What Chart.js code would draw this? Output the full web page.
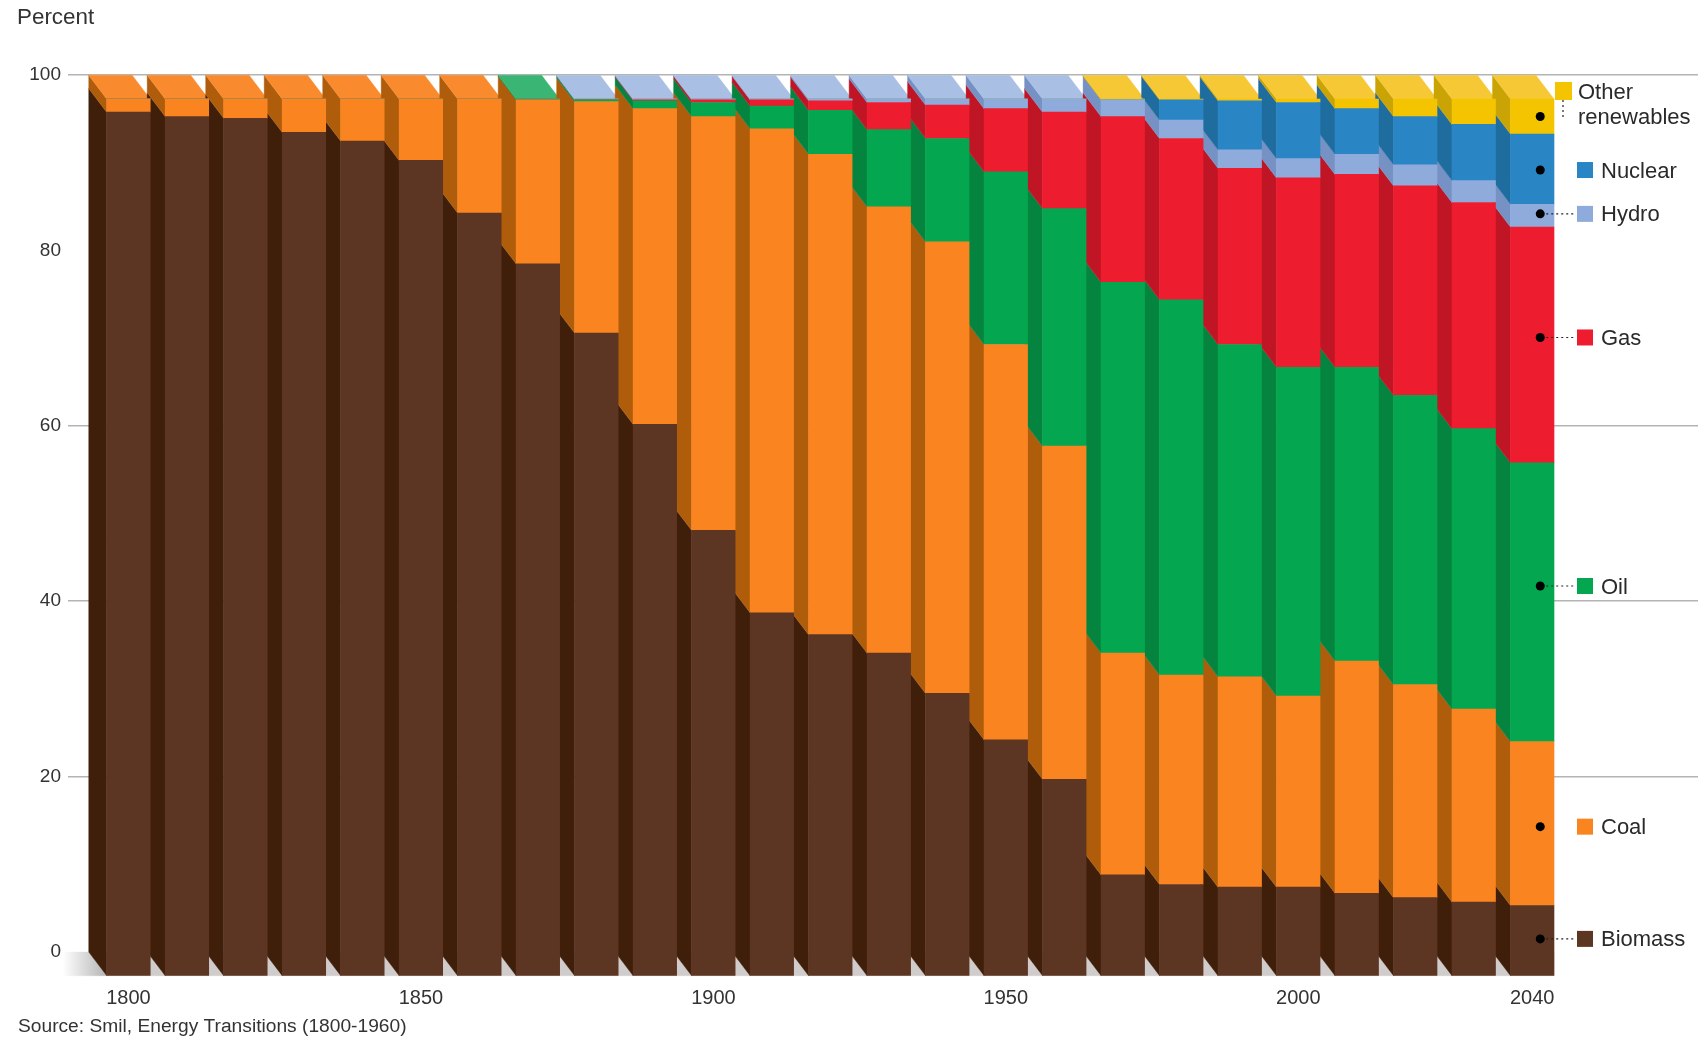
<!DOCTYPE html>
<html>
<head>
<meta charset="utf-8">
<style>html,body{margin:0;padding:0;background:#fff}#wrap{width:1698px;height:1040px}canvas{display:block}</style>
<script src="https://cdn.jsdelivr.net/npm/chart.js@4"></script>
</head>
<body>
<div id="wrap"><canvas id="c" width="1698" height="1040"></canvas></div>
<script>
const years = [1800,1810,1820,1830,1840,1850,1860,1870,1880,1890,1900,1910,1920,1930,1940,1950,1960,1970,1980,1990,2000,2010,2020,2030,2040];
const biomass = [98.5,98.0,97.8,96.2,95.2,93.0,87.0,81.2,73.3,62.9,50.8,41.4,38.9,36.8,32.2,26.9,22.4,11.5,10.4,10.1,10.1,9.4,8.9,8.4,8.0];
const coal    = [1.5,2.0,2.2,3.8,4.8,7.0,13.0,18.7,26.4,36.0,47.2,55.2,54.8,50.9,51.5,45.1,38.0,25.3,23.9,24.0,21.8,26.5,24.3,22.0,18.7];
const oil     = [0,0,0,0,0,0,0,0.1,0.2,0.9,1.6,2.6,5.0,8.8,11.8,19.7,27.1,42.3,42.8,37.9,37.5,33.5,33.0,32.0,31.8];
const gas     = [0,0,0,0,0,0,0,0,0,0.1,0.3,0.7,1.1,3.1,3.8,7.2,11.0,18.9,18.4,20.1,21.6,22.0,23.9,25.8,26.9];
const hydro   = [0,0,0,0,0,0,0,0,0.1,0.1,0.1,0.1,0.2,0.4,0.7,1.1,1.5,1.9,2.1,2.1,2.2,2.3,2.4,2.5,2.6];
const nuclear = [0,0,0,0,0,0,0,0,0,0,0,0,0,0,0,0,0,0,2.3,5.6,6.4,5.2,5.5,6.4,8.0];
const other   = [0,0,0,0,0,0,0,0,0,0,0,0,0,0,0,0,0,0.1,0.1,0.2,0.4,1.1,2.0,2.9,4.0];
const seriesNames = ["Biomass","Coal","Oil","Gas","Hydro","Nuclear","Other renewables"];
const legendValues = [4.2,17.0,44.45,72.8,86.9,91.9,98.0];
const xTickYears = [1800,1850,1900,1950,2000,2040];
const yTickValues = [0,20,40,60,80,100];

const seriesValues = [biomass,coal,oil,gas,hydro,nuclear,other];
const frontColors = ["#5c3623","#f98420","#04a64f","#ed1c2e","#8fabdc","#2a85c5","#f5c400"];
const sideColors  = ["#401f0a","#b05d0b","#05843f","#bf1524","#7692c4","#1f6c9f","#c9a404"];
const topColors   = ["#5c3623","#f98b2e","#3ab574","#ed3044","#a9bfe3","#2a85c5","#f6c836"];
const DX = 18, DY = 23.7;
const FONT = '"Liberation Sans", Arial, sans-serif';

function poly(ctx, pts, fill){
  ctx.beginPath();
  pts.forEach((p,i)=> i?ctx.lineTo(p[0],p[1]):ctx.moveTo(p[0],p[1]));
  ctx.closePath();
  ctx.fillStyle = fill; ctx.fill();
  ctx.strokeStyle = fill; ctx.lineWidth = 0.4; ctx.stroke();
}

const faces = {
  id:'faces',
  beforeDatasetsDraw(chart){
    const ctx = chart.ctx, n = years.length;
    const metas = seriesValues.map((_,d)=>chart.getDatasetMeta(d));
    const firstBar = metas[0].data[0], lastBar = metas[0].data[n-1];
    const fl0 = firstBar.x-firstBar.width/2, fr1 = lastBar.x+lastBar.width/2;
    const yf = firstBar.base;
    ctx.save();
    // floor fading on the left
    const g = ctx.createLinearGradient(fl0-DX-26,0,fl0,0);
    g.addColorStop(0,'#ffffff'); g.addColorStop(1,'#b4b4b4');
    poly(ctx,[[fl0-DX-26,yf-DY],[fl0-DX,yf-DY],[fl0,yf],[fl0-DX-26,yf]],g);
    poly(ctx,[[fl0,yf-DY],[fr1,yf-DY],[fr1,yf],[fl0,yf]],'#d0cccc');
    for(let i=0;i<n;i++){
      let topD = -1;
      for(let d=0;d<seriesValues.length;d++){
        if(seriesValues[d][i]<=0) continue;
        topD = d;
        const b = metas[d].data[i];
        const fl = b.x-b.width/2;
        poly(ctx,[[fl-DX,b.y-DY],[fl,b.y],[fl,b.base],[fl-DX,b.base-DY]],sideColors[d]);
      }
      const b = metas[topD].data[i];
      const fl = b.x-b.width/2, fr = b.x+b.width/2;
      poly(ctx,[[fl-DX,b.y-DY],[fr-DX,b.y-DY],[fr,b.y],[fl,b.y]],topColors[topD]);
    }
    ctx.restore();
  },
  afterDatasetsDraw(chart){
    const ctx = chart.ctx, y = chart.scales.y;
    const dotX = chart.scales.x.getPixelForValue(2040)+8;
    ctx.save();
    ctx.textBaseline='middle'; ctx.textAlign='left';
    ctx.font='22px '+FONT;
    seriesNames.forEach((name,d)=>{
      const py = y.getPixelForValue(legendValues[d]);
      ctx.fillStyle='#000';
      ctx.beginPath(); ctx.arc(dotX,py,4.5,0,Math.PI*2); ctx.fill();
      if(d===6){
        ctx.fillStyle=frontColors[d]; ctx.fillRect(1555,82,17,18);
        ctx.strokeStyle='#222'; ctx.lineWidth=1.2; ctx.setLineDash([2,3]);
        ctx.beginPath(); ctx.moveTo(1563,100); ctx.lineTo(1563,117); ctx.stroke(); ctx.setLineDash([]);
        ctx.fillStyle='#2a2a2a';
        ctx.fillText("Other",1578,93); ctx.fillText("renewables",1578,118);
      } else {
        ctx.fillStyle=frontColors[d]; ctx.fillRect(1577,py-8,16,16);
        if(d===0||d===2||d===3||d===4){
          ctx.strokeStyle='#222'; ctx.lineWidth=1.2; ctx.setLineDash([2,3]);
          ctx.beginPath(); ctx.moveTo(dotX+6,py); ctx.lineTo(1576,py); ctx.stroke(); ctx.setLineDash([]);
        }
        ctx.fillStyle='#2a2a2a';
        ctx.fillText(name,1601,py+1.5);
      }
    });
    ctx.font='22.4px '+FONT; ctx.fillStyle='#333';
    ctx.fillText("Percent",17,18);
    ctx.font='19.2px '+FONT;
    ctx.fillText("Source: Smil, Energy Transitions (1800-1960)",18,1027);
    ctx.restore();
  }
};

new Chart(document.getElementById('c'),{
  type:'bar',
  data:{
    datasets: seriesNames.map((name,d)=>({
      label:name,
      data: years.map((yr,i)=>({x:yr,y:seriesValues[d][i]})),
      backgroundColor:frontColors[d],
      borderWidth:0,
      barThickness:43.5,
      xAxisID:'x', yAxisID:'y'
    }))
  },
  plugins:[faces],
  options:{
    responsive:false, animation:false, devicePixelRatio:1,
    layout:{padding:{top:75,left:0,right:0,bottom:0}},
    plugins:{legend:{display:false},title:{display:false},tooltip:{enabled:false}},
    scales:{
      x:{
        type:'linear', stacked:true, offset:false, min:1789.66, max:2068.34,
        grid:{display:false,offset:false}, border:{display:false},
        afterBuildTicks:s=>{s.ticks=xTickYears.map(v=>({value:v}));},
        afterFit:s=>{s.height=64.3;},
        ticks:{autoSkip:false,maxRotation:0,padding:3,color:'#333',font:{family:FONT,size:20},callback:v=>String(v)}
      },
      y:{
        type:'linear', stacked:true, display:false, min:0, max:102.74
      },
      yb:{
        type:'linear', position:'left', min:-2.7, max:100,
        border:{display:false},
        grid:{drawTicks:false,lineWidth:1.5,color:c=>(c.tick&&(c.tick.value===80||c.tick.value===0))?'rgba(0,0,0,0)':'#b4b4b4'},
        afterBuildTicks:s=>{s.ticks=yTickValues.map(v=>({value:v}));},
        afterFit:s=>{s.width=68;},
        ticks:{padding:7,color:'#333',font:{family:FONT,size:19},callback:v=>String(v)}
      }
    }
  }
});
</script>
</body>
</html>
